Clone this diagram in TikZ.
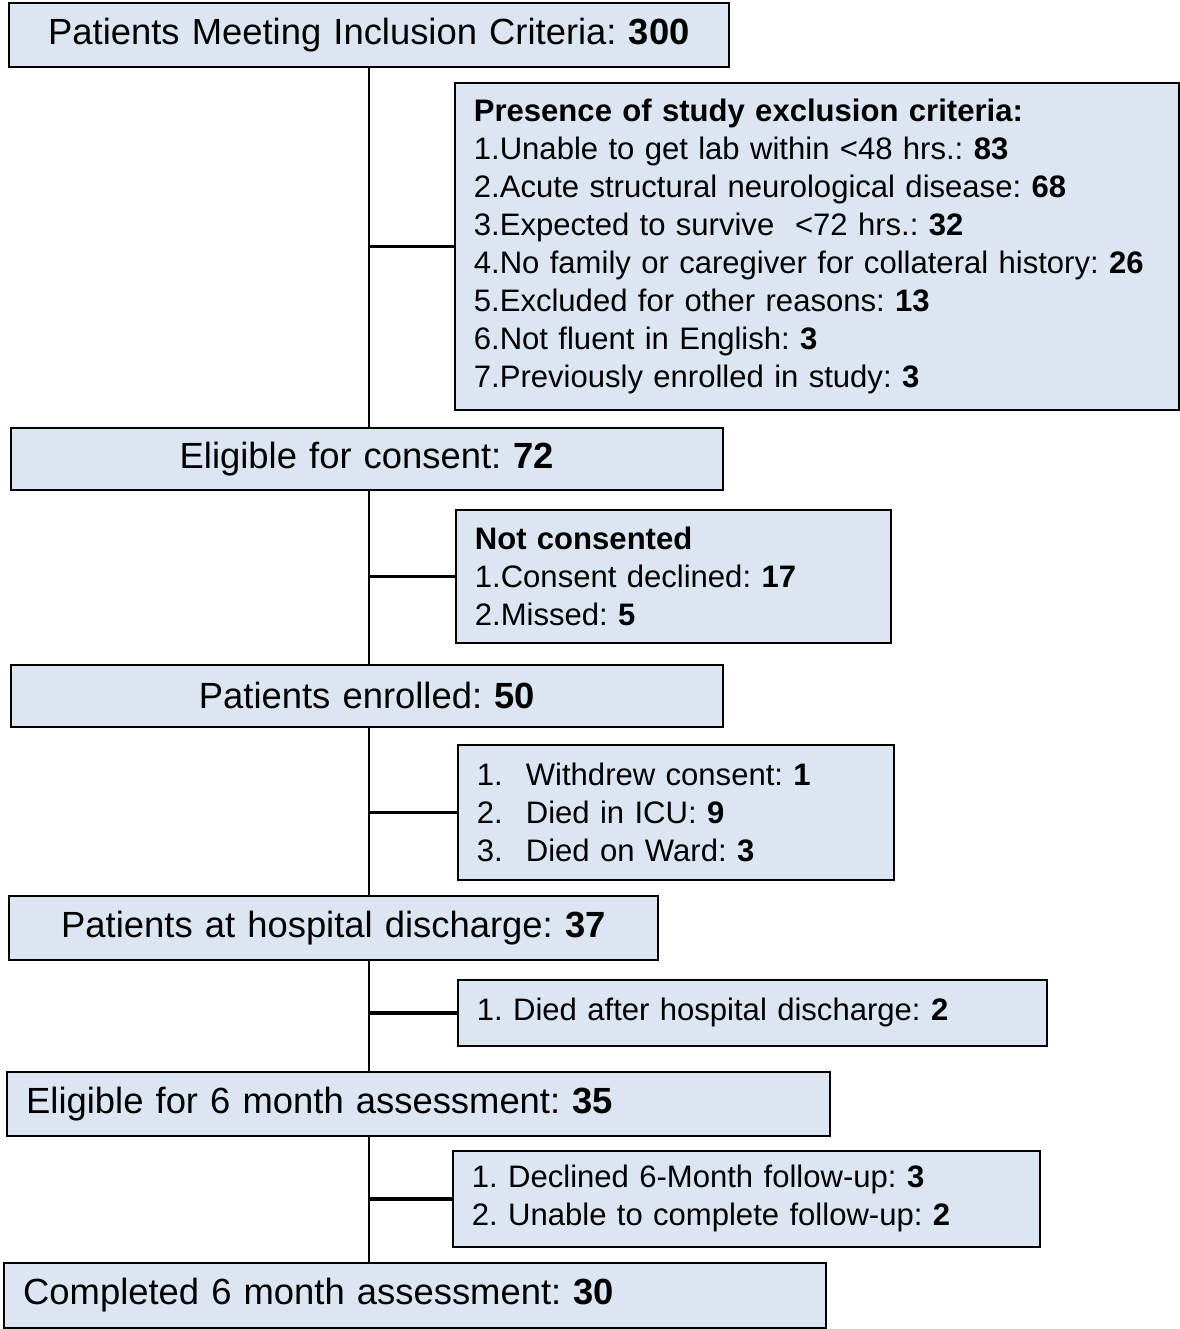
\documentclass[tikz,border=0pt]{standalone}
\usepackage{fontspec}
\setmainfont{Liberation Sans}
\usetikzlibrary{positioning, backgrounds}
\definecolor{boxblue}{HTML}{DCE6F2}
\frenchspacing

\begin{document}
\begin{tikzpicture}[
    x=0.75pt, y=-0.75pt,
    block/.style={rectangle, draw, line width=1.3pt, fill=boxblue, anchor=north west, inner xsep=0pt, inner ysep=0pt, align=center, font=\fontsize{27.3}{32}\selectfont},
    leftblock/.style={block, inner xsep=14.5pt, align=left},
    note/.style={rectangle, draw, line width=1.3pt, fill=boxblue, anchor=north west, inner xsep=14.25pt, inner ysep=0pt, align=left, font=\fontsize{23.3}{28.5}\selectfont},
    trunk/.style={line width=1.4pt},
    branch/.style={line width=2.8pt}
]
    \useasboundingbox (0,0) rectangle (1180,1329);

    \node [block, text width=540pt, minimum height=48pt] (top) at (8,2) {Patients Meeting Inclusion Criteria: \textbf{300}};
    \node [note, text width=514.5pt, minimum height=245.25pt] (excl) at (454,82) {\textbf{Presence of study exclusion criteria:}\\
        1.Unable to get lab within <48 hrs.: \textbf{83}\\
        2.Acute structural neurological disease: \textbf{68}\\
        3.Expected to survive\ \ <72 hrs.: \textbf{32}\\
        4.No family or caregiver for collateral history: \textbf{26}\\
        5.Excluded for other reasons: \textbf{13}\\
        6.Not fluent in English: \textbf{3}\\
        7.Previously enrolled in study: \textbf{3}};
    \node [block, text width=534pt, minimum height=46.5pt] (elig) at (10,427) {Eligible for consent: \textbf{72}};
    \node [note, text width=297.75pt, minimum height=99.75pt] (notc) at (455,509) {\textbf{Not consented}\\
        1.Consent declined: \textbf{17}\\
        2.Missed: \textbf{5}};
    \node [block, text width=534pt, minimum height=46.5pt] (enrol) at (10,664) {Patients enrolled: \textbf{50}};
    \node [note, text width=298.5pt, minimum height=101.25pt] (lost) at (457,744) {\makebox[36.75pt][l]{1.}Withdrew consent: \textbf{1}\\
        \makebox[36.75pt][l]{2.}Died in ICU: \textbf{9}\\
        \makebox[36.75pt][l]{3.}Died on Ward: \textbf{3}};
    \node [block, text width=486.75pt, minimum height=48pt] (disch) at (8,895) {Patients at hospital discharge: \textbf{37}};
    \node [note, text width=413.25pt, minimum height=49.5pt] (died) at (457,979) {1. Died after hospital discharge: \textbf{2}};
    \node [leftblock, text width=588.25pt, minimum height=48pt] (six) at (6,1071) {Eligible for 6 month assessment: \textbf{35}};
    \node [note, text width=411.75pt, minimum height=72pt] (decl) at (452,1150) {1. Declined 6-Month follow-up: \textbf{3}\\
        2. Unable to complete follow-up: \textbf{2}};
    \node [leftblock, text width=587.5pt, minimum height=48.75pt] (done) at (3,1262) {Completed 6 month assessment: \textbf{30}};

    \begin{scope}[on background layer]
        \draw [trunk] (top.south) -- (top.south |- done.north);
        \draw [branch] (excl.west -| top.south) -- (excl.west);
        \draw [branch] (notc.west -| top.south) -- (notc.west);
        \draw [branch] (lost.west -| top.south) -- (lost.west);
        \draw [branch] (died.west -| top.south) -- (died.west);
        \draw [branch] (decl.west -| top.south) -- (decl.west);
    \end{scope}
\end{tikzpicture}
\end{document}
